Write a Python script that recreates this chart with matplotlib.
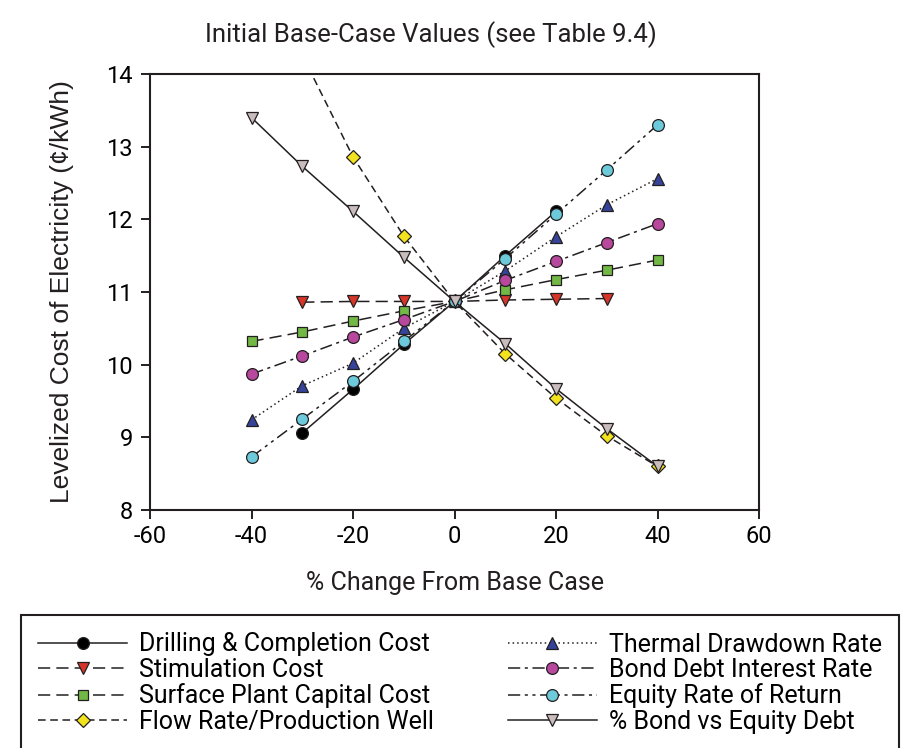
import numpy as np
import matplotlib.pyplot as plt

plt.rcParams["font.family"] = ["Roboto", "DejaVu Sans"]
plt.rcParams["axes.unicode_minus"] = False

# % change from base case
pct = [-40, -30, -20, -10, 0, 10, 20, 30, 40]

drill_x = [-30, -20, -10, 0, 10, 20]
drill_y = [9.06, 9.66, 10.28, 10.87, 11.50, 12.11]

stim_x = [-30, -20, -10, 0, 10, 20, 30]
stim_y = [10.86, 10.87, 10.87, 10.87, 10.89, 10.90, 10.91]

surface_y = [10.32, 10.45, 10.60, 10.74, 10.87, 11.03, 11.17, 11.30, 11.44]

flow_y = [16.15, 14.26, 12.86, 11.77, 10.87, 10.15, 9.54, 9.02, 8.60]

thermal_y = [9.24, 9.71, 10.02, 10.50, 10.87, 11.29, 11.76, 12.20, 12.56]

bond_y = [9.87, 10.12, 10.38, 10.62, 10.87, 11.16, 11.42, 11.68, 11.94]

equity_y = [8.73, 9.25, 9.77, 10.32, 10.87, 11.46, 12.07, 12.68, 13.30]

bondvs_y = [13.40, 12.73, 12.11, 11.48, 10.87, 10.29, 9.67, 9.12, 8.60]

labels = ["Drilling & Completion Cost", "Stimulation Cost",
          "Surface Plant Capital Cost", "Flow Rate/Production Well",
          "Thermal Drawdown Rate", "Bond Debt Interest Rate",
          "Equity Rate of Return", "% Bond vs Equity Debt"]

fig = plt.figure(figsize=(9.19, 7.48), dpi=100)
ax = fig.add_axes([150/919, 1-510/748, 609/919, 436/748])

lw = 1.1
ms = 8.5
ec = "#231f20"
series = [
    (drill_x, drill_y, dict(ls="-", marker="o", mfc="black")),
    (stim_x, stim_y, dict(dashes=(8, 4), marker="v", mfc="#d8352a")),
    (pct, surface_y, dict(dashes=(8, 4), marker="s", mfc="#72b844", ms=ms-1.2)),
    (pct, flow_y, dict(dashes=(5, 3), marker="D", mfc="#f3e31e", ms=ms-1.2)),
    (pct, thermal_y, dict(dashes=(1, 2), marker="^", mfc="#35449a")),
    (pct, bond_y, dict(dashes=(8, 3, 2, 3), marker="o", mfc="#b8489e")),
    (pct, equity_y, dict(dashes=(8, 3, 2, 3, 2, 3), marker="o", mfc="#6ccadb")),
    (pct, bondvs_y, dict(ls="-", marker="v", mfc="#c9bcbc")),
]
handles = []
for (x, y, kw), lab in zip(series, labels):
    kw.setdefault("ms", ms)
    line, = ax.plot(x, y, color=ec, lw=lw, mec=ec, mew=0.9, label=lab, **kw)
    handles.append(line)

ax.set_xlim(-60, 60)
ax.set_ylim(8, 14)
ax.set_xticks(np.arange(-60, 61, 20))
ax.set_yticks(np.arange(8, 15, 1))
ax.tick_params(direction="out", length=6.5, width=1.4, labelsize=17, color=ec)
ax.tick_params(axis="y", pad=6)
ax.tick_params(axis="x", pad=4)
for s in ax.spines.values():
    s.set_linewidth(1.5)
    s.set_color(ec)

fig.text(431/919, 1-42/748, "Initial Base-Case Values (see Table 9.4)",
         fontsize=18.5, ha="center", va="baseline", color=ec)
fig.text(454.5/919, 1-590/748, "% Change From Base Case",
         fontsize=18, ha="center", va="baseline", color=ec)
fig.text(62/919, 1-292/748, "Levelized Cost of Electricity (\u00a2/kWh)",
         fontsize=19, rotation=90, ha="center", va="center",
         family=["Liberation Sans", "DejaVu Sans"], color=ec)

leg = fig.legend(handles, labels, ncol=2, loc="upper left",
                 bbox_to_anchor=(20.5/919, 1-615/748),
                 bbox_transform=fig.transFigure, borderaxespad=0,
                 fontsize=18, handlelength=3.56, handletextpad=0.48,
                 columnspacing=2.95, labelspacing=0.06, borderpad=0.7,
                 fancybox=False, framealpha=1, edgecolor=ec)
leg.get_frame().set_linewidth(1.5)

fig.savefig("out.png", dpi=100)
